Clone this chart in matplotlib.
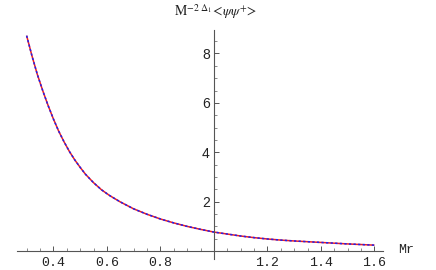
import matplotlib
matplotlib.use("Agg")
import matplotlib.pyplot as plt
from matplotlib.ticker import MultipleLocator, FixedLocator

# Data
mr = [0.30, 0.32, 0.34, 0.36, 0.38, 0.40, 0.42, 0.44, 0.46, 0.48, 0.50, 0.52,
      0.55, 0.58, 0.61, 0.65, 0.70, 0.75, 0.80, 0.85, 0.90, 0.95, 1.00, 1.05,
      1.10, 1.15, 1.20, 1.25, 1.30, 1.35, 1.40, 1.45, 1.50, 1.55, 1.60]
val = [8.72, 7.90, 7.15, 6.50, 5.90, 5.35, 4.85, 4.42, 4.03, 3.69, 3.39, 3.11,
       2.77, 2.48, 2.25, 1.99, 1.71, 1.49, 1.30, 1.14, 1.00, 0.88, 0.77, 0.69,
       0.61, 0.545, 0.49, 0.445, 0.41, 0.38, 0.35, 0.32, 0.29, 0.265, 0.24]

xticks = [0.4, 0.6, 0.8, 1.2, 1.4, 1.6]
xticklabels = ["0.4", "0.6", "0.8", "1.2", "1.4", "1.6"]
yticks = [2, 4, 6, 8]
yticklabels = ["2", "4", "6", "8"]

plt.rcParams['mathtext.fontset'] = 'stix'

W, H = 436, 270
fig = plt.figure(figsize=(W / 100, H / 100), dpi=100)
x0, x1 = 17, 383
ytop, ybot = 30, 258.5
ax = fig.add_axes([x0 / W, (H - ybot) / H, (x1 - x0) / W, (ybot - ytop) / H])
ax.set_xlim(0.264, 1.632)
ax.set_ylim(-0.30, 8.95)

ax.plot(mr, val, color="#ee2020", lw=1.1, solid_capstyle="butt", solid_joinstyle="round")
ax.plot(mr, val, color="#2020ee", lw=1.1, dashes=(1.5, 1.5), dash_joinstyle="round")

for s in ("top", "right"):
    ax.spines[s].set_visible(False)
ax.spines["left"].set_position(("data", 1.0))
ax.spines["bottom"].set_position(("data", 0.0))
for s in ("left", "bottom"):
    ax.spines[s].set_color("#555555")
    ax.spines[s].set_linewidth(0.8)

ax.xaxis.set_major_locator(FixedLocator(xticks))
ax.set_xticklabels(xticklabels, family="Liberation Mono", fontsize=9.5, color="#222222")
ax.xaxis.set_minor_locator(MultipleLocator(0.05))
ax.yaxis.set_major_locator(FixedLocator(yticks))
ax.set_yticklabels(yticklabels, family="Liberation Sans", fontsize=10, color="#222222")
ax.yaxis.set_minor_locator(MultipleLocator(0.5))
ax.tick_params(which="major", direction="in", length=3.5, width=0.7, color="#555555")
ax.tick_params(which="minor", direction="in", length=2, width=0.6, color="#777777")
ax.tick_params(axis="x", pad=4)
ax.tick_params(axis="y", pad=3)

fig.text(398 / W, 1 - 250 / H, "Mr", family="Liberation Mono", fontsize=9.5,
         ha="left", va="center", color="#222222")
fig.text(216 / W, 1 - 12 / H, r"$\mathrm{M}^{-2\ \Delta_1}\!<\!\psi\psi^{+}\!>$",
         fontsize=10, ha="center", va="center", color="#222222")

fig.savefig("out.png", dpi=100)
